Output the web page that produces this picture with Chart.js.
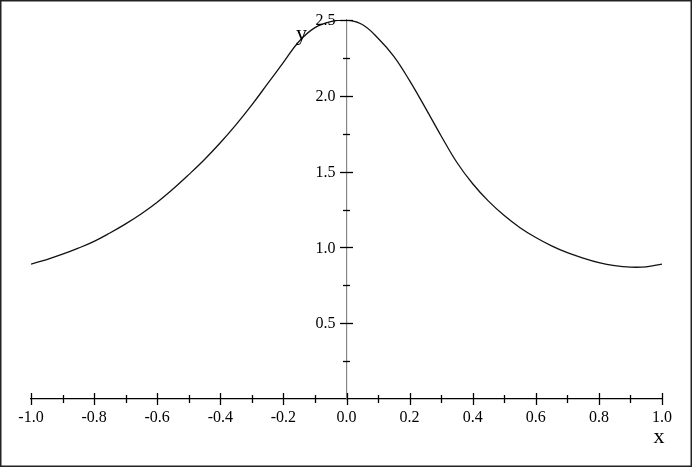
<!DOCTYPE html>
<html>
<head>
<meta charset="utf-8">
<script src="https://cdn.jsdelivr.net/npm/chart.js@4"></script>
<style>
  html, body { margin: 0; padding: 0; background: #fff; }
  #wrap { width: 692px; height: 467px; position: relative; }
</style>
</head>
<body>
<div id="wrap"><canvas id="chart" width="692" height="467"></canvas></div>
<script>
// values
const xValues = [
  -1.0, -0.95, -0.9, -0.85, -0.8, -0.75, -0.7, -0.65, -0.6, -0.55, -0.5,
  -0.45, -0.4, -0.35, -0.3, -0.25, -0.2, -0.15, -0.1, -0.05, 0.0,
  0.05, 0.1, 0.15, 0.2, 0.25, 0.3, 0.35, 0.4, 0.45, 0.5,
  0.55, 0.6, 0.65, 0.7, 0.75, 0.8, 0.85, 0.9, 0.95, 1.0
];
const yValues = [
  0.89, 0.92, 0.955, 0.995, 1.04, 1.095, 1.155, 1.222, 1.298, 1.385, 1.48,
  1.58, 1.69, 1.81, 1.94, 2.08, 2.22, 2.36, 2.45, 2.49, 2.50,
  2.47, 2.38, 2.26, 2.10, 1.92, 1.735, 1.56, 1.42, 1.305, 1.21,
  1.13, 1.065, 1.01, 0.965, 0.93, 0.90, 0.88, 0.87, 0.872, 0.89
];
const xTicks = [-1.0, -0.8, -0.6, -0.4, -0.2, 0.0, 0.2, 0.4, 0.6, 0.8, 1.0];
const yTicks = [0.5, 1.0, 1.5, 2.0, 2.5];
const xMinorTicks = [-0.9, -0.7, -0.5, -0.3, -0.1, 0.1, 0.3, 0.5, 0.7, 0.9];
const yMinorTicks = [0.25, 0.75, 1.25, 1.75, 2.25];

const points = xValues.map((x, i) => ({ x: x, y: yValues[i] }));
const serif = "'Liberation Serif', 'DejaVu Serif', serif";

// tick marks crossing the axes, y labels, axis names, outer frame
const axisDecor = {
  id: "axisDecor",
  afterDraw(chart) {
    const ctx = chart.ctx;
    const xs = chart.scales.x;
    const ys = chart.scales.y;
    const x0 = xs.getPixelForValue(0);
    const y0 = ys.getPixelForValue(0);
    ctx.save();
    ctx.strokeStyle = "#000";
    ctx.lineWidth = 1.3;
    xTicks.forEach(v => {
      const px = Math.round(xs.getPixelForValue(v)) + 0.5;
      ctx.beginPath(); ctx.moveTo(px, y0 - 6); ctx.lineTo(px, y0 + 6); ctx.stroke();
    });
    xMinorTicks.forEach(v => {
      const px = Math.round(xs.getPixelForValue(v)) + 0.5;
      ctx.beginPath(); ctx.moveTo(px, y0 - 4); ctx.lineTo(px, y0 + 4); ctx.stroke();
    });
    yTicks.forEach(v => {
      const py = Math.round(ys.getPixelForValue(v)) + 0.5;
      ctx.beginPath(); ctx.moveTo(x0 - 6.5, py); ctx.lineTo(x0 + 6.5, py); ctx.stroke();
    });
    yMinorTicks.forEach(v => {
      const py = Math.round(ys.getPixelForValue(v)) + 0.5;
      ctx.beginPath(); ctx.moveTo(x0 - 3.5, py); ctx.lineTo(x0 + 3.5, py); ctx.stroke();
    });

    ctx.fillStyle = "#000";
    ctx.font = "16px " + serif;
    ctx.textAlign = "right";
    ctx.textBaseline = "middle";
    yTicks.forEach(v => {
      ctx.fillText(v.toFixed(1), x0 - 11, ys.getPixelForValue(v) + 1);
    });

    ctx.font = "22px " + serif;
    ctx.textAlign = "center";
    ctx.textBaseline = "alphabetic";
    ctx.fillText("x", xs.getPixelForValue(1.0) - 3, y0 + 44);
    ctx.fillText("y", x0 - 45, ys.getPixelForValue(2.5) + 20);

    ctx.strokeStyle = "#222";
    ctx.lineWidth = 1.5;
    ctx.strokeRect(0.75, 0.75, chart.width - 1.5, chart.height - 1.5);
    ctx.restore();
  }
};

new Chart(document.getElementById("chart"), {
  type: "line",
  data: {
    datasets: [{
      data: points,
      borderColor: "#111",
      borderWidth: 1.3,
      pointRadius: 0,
      fill: false,
      tension: 0.4
    }]
  },
  options: {
    responsive: false,
    animation: false,
    layout: { padding: { left: 31, right: 30, top: 20, bottom: 68 } },
    scales: {
      x: {
        type: "linear",
        min: -1,
        max: 1,
        position: { y: 0 },
        grid: { display: false, drawTicks: false },
        border: { display: true, color: "#000", width: 1.3 },
        afterBuildTicks: axis => { axis.ticks = xTicks.map(v => ({ value: v })); },
        ticks: {
          color: "#000",
          padding: 9,
          maxRotation: 0,
          autoSkip: false,
          font: { family: serif, size: 16 },
          callback: v => v.toFixed(1)
        }
      },
      y: {
        type: "linear",
        min: 0,
        max: 2.5,
        position: { x: 0 },
        grid: { display: false, drawTicks: false },
        border: { display: true, color: "#888", width: 1.2 },
        ticks: { display: false }
      }
    },
    plugins: {
      legend: { display: false },
      tooltip: { enabled: false }
    }
  },
  plugins: [axisDecor]
});
</script>
</body>
</html>
